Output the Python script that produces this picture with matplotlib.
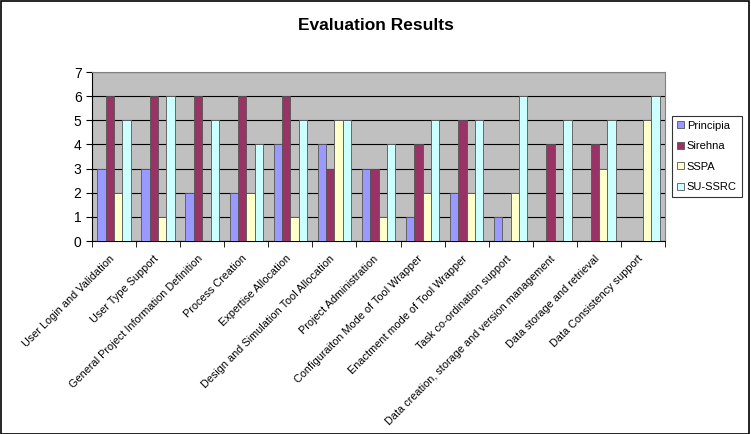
import numpy as np
import matplotlib.pyplot as plt
import matplotlib.transforms as mtrans
from matplotlib.patches import Rectangle

categories = [
    "User Login and Validation",
    "User Type Support",
    "General Project Information Definition",
    "Process Creation",
    "Expertise Allocation",
    "Design and Simulation Tool Allocation",
    "Project Administration",
    "Configuraiton Mode of Tool Wrapper",
    "Enactment mode of Tool Wrapper",
    "Task co-ordination support",
    "Data creation, storage and version management",
    "Data storage and retrieval",
    "Data Consistency support",
]
principia = [3, 3, 2, 2, 4, 4, 3, 1, 2, 1, 0, 0, 0]
sirehna = [6, 6, 6, 6, 6, 3, 3, 4, 5, 0, 4, 4, 0]
sspa = [2, 1, 0, 2, 1, 5, 1, 2, 2, 2, 0, 3, 5]
su_ssrc = [5, 6, 5, 4, 5, 5, 4, 5, 5, 6, 5, 5, 6]

series = [("Principia", principia, "#9999FF"),
          ("Sirehna", sirehna, "#993366"),
          ("SSPA", sspa, "#FFFFCC"),
          ("SU-SSRC", su_ssrc, "#CCFFFF")]

plt.rcParams['font.family'] = ['Liberation Sans', 'DejaVu Sans']

fig = plt.figure(figsize=(7.51, 4.34), dpi=100)
fig.patches.append(Rectangle((0.001, 0.001), 0.997, 0.997, transform=fig.transFigure,
                             fill=False, edgecolor='black', linewidth=1.2))
ax = fig.add_axes([0.1225, 0.4447, 0.763, 0.3893])
ax.set_facecolor('#C0C0C0')

x = np.arange(len(categories))
w = 0.19
for i, (name, vals, col) in enumerate(series):
    ax.bar(x + (i - 1.5) * w, vals, w, color=col, edgecolor='#555555',
           linewidth=0.6, label=name, zorder=3)

ax.set_ylim(0, 7)
ax.set_xlim(-0.5, len(categories) - 0.5)
ax.set_yticks(range(8))
ax.yaxis.grid(True, color='black', linewidth=0.8, zorder=1)
ax.set_axisbelow(True)
ax.tick_params(axis='y', labelsize=10, length=4, direction='out')

ax.set_xticks(x)
ax.set_xticklabels(categories, rotation=45, ha='right', rotation_mode='anchor', fontsize=7.8)
ax.tick_params(axis='x', which='major', length=0, pad=9)
shift = mtrans.ScaledTranslation(-5 / 100, 0, fig.dpi_scale_trans)
for lbl in ax.get_xticklabels():
    lbl.set_transform(lbl.get_transform() + shift)
ax.set_xticks(np.arange(len(categories) + 1) - 0.5, minor=True)
ax.tick_params(axis='x', which='minor', length=4, direction='out')

for s in ['top', 'right']:
    ax.spines[s].set_color('#808080')
for s in ['left', 'bottom']:
    ax.spines[s].set_color('black')

fig.text(0.5, 0.942, "Evaluation Results", ha='center', va='center',
         fontsize=12.5, fontweight='bold')

leg = ax.legend(loc='center left', bbox_to_anchor=(1.012, 0.5), fontsize=8,
                frameon=True, fancybox=False, edgecolor='black', handlelength=0.6,
                handleheight=0.6, handletextpad=0.3, borderpad=0.45, labelspacing=0.95,
                borderaxespad=0)
leg.get_frame().set_linewidth(0.8)

fig.savefig('out.png', dpi=100)
